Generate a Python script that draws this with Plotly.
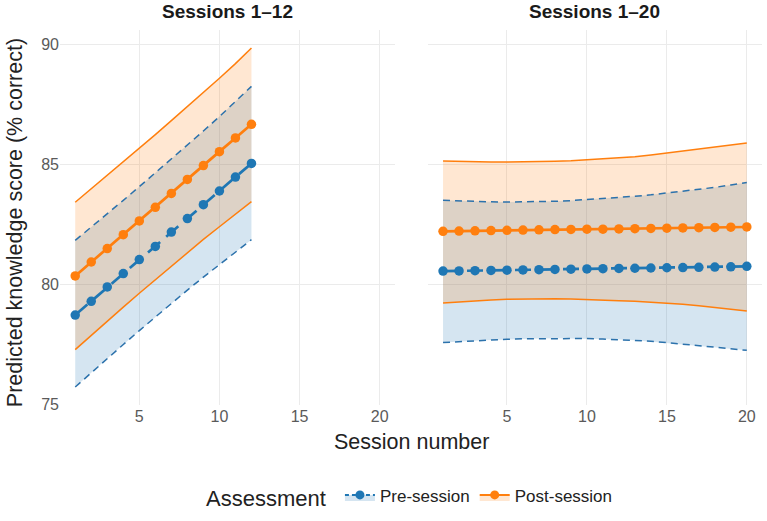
import plotly.graph_objects as go

# ---------------- data ----------------
sessions_12 = [1, 2, 3, 4, 5, 6, 7, 8, 9, 10, 11, 12]
sessions_20 = list(range(1, 21))

# Panel 1: Sessions 1-12
pre_12 = [78.72, 79.29, 79.89, 80.45, 81.03, 81.58, 82.18, 82.74, 83.32, 83.89, 84.47, 85.04]
pre_12_lo = [75.72, 76.32, 76.91, 77.49, 78.07, 78.64, 79.20, 79.76, 80.30, 80.83, 81.35, 81.86]
pre_12_hi = [81.83, 82.38, 82.94, 83.50, 84.07, 84.64, 85.22, 85.80, 86.39, 86.99, 87.61, 88.25]
post_12 = [80.35, 80.93, 81.49, 82.07, 82.64, 83.21, 83.79, 84.37, 84.95, 85.53, 86.10, 86.67]
post_12_lo = [77.28, 77.88, 78.47, 79.05, 79.63, 80.20, 80.77, 81.33, 81.87, 82.40, 82.93, 83.45]
post_12_hi = [83.42, 83.98, 84.54, 85.10, 85.67, 86.24, 86.82, 87.40, 87.99, 88.59, 89.20, 89.85]

# Panel 2: Sessions 1-20
pre_20 = [80.55, 80.56, 80.57, 80.58, 80.59, 80.60, 80.61, 80.62, 80.63, 80.64,
          80.65, 80.66, 80.67, 80.68, 80.69, 80.70, 80.71, 80.72, 80.73, 80.75]
pre_20_lo = [77.57, 77.61, 77.65, 77.68, 77.71, 77.73, 77.74, 77.75, 77.75, 77.74,
             77.72, 77.70, 77.67, 77.63, 77.57, 77.51, 77.45, 77.38, 77.31, 77.25]
pre_20_hi = [83.50, 83.47, 83.45, 83.44, 83.43, 83.43, 83.44, 83.46, 83.49, 83.53,
             83.57, 83.62, 83.67, 83.73, 83.80, 83.87, 83.95, 84.04, 84.14, 84.24]
post_20 = [82.21, 82.22, 82.23, 82.24, 82.25, 82.26, 82.27, 82.28, 82.29, 82.30,
           82.30, 82.31, 82.32, 82.33, 82.34, 82.35, 82.36, 82.37, 82.38, 82.39]
post_20_lo = [79.22, 79.27, 79.31, 79.35, 79.375, 79.39, 79.40, 79.40, 79.39, 79.375,
              79.35, 79.32, 79.29, 79.26, 79.22, 79.17, 79.11, 79.04, 78.97, 78.89]
post_20_hi = [85.14, 85.12, 85.11, 85.10, 85.10, 85.10, 85.11, 85.13, 85.15, 85.19,
              85.23, 85.27, 85.32, 85.39, 85.47, 85.54, 85.62, 85.70, 85.79, 85.89]

x_ticks = [5, 10, 15, 20]
y_ticks = [75, 80, 85, 90]
panel_titles = ["Sessions 1–12", "Sessions 1–20"]
group_names = ["Pre-session", "Post-session"]

# ---------------- style ----------------
BLUE = "#1F77B4"
ORANGE = "#FF7F0E"
BLUE_FILL = "rgba(31,119,180,0.19)"
ORANGE_FILL = "rgba(255,127,14,0.19)"
FONT = "Liberation Sans, Arial, sans-serif"

fig = go.Figure()

panels = [
    ("x", "y", sessions_12, (pre_12, pre_12_lo, pre_12_hi), (post_12, post_12_lo, post_12_hi)),
    ("x2", "y2", sessions_20, (pre_20, pre_20_lo, pre_20_hi), (post_20, post_20_lo, post_20_hi)),
]

for xa, ya, xs, pre, post in panels:
    # ribbons
    for (mid, lo, hi), fill in ((pre, BLUE_FILL), (post, ORANGE_FILL)):
        fig.add_trace(go.Scatter(
            x=xs + xs[::-1], y=hi + lo[::-1], fill="toself", fillcolor=fill,
            mode="lines", line=dict(width=0), hoverinfo="skip", showlegend=False,
            xaxis=xa, yaxis=ya))
    # ribbon edges
    for (mid, lo, hi), col, dash in ((pre, "#2C72AC", "7px,5px"), (post, ORANGE, "solid")):
        for edge in (lo, hi):
            fig.add_trace(go.Scatter(
                x=xs, y=edge, mode="lines", line=dict(color=col, width=1.5, dash=dash),
                hoverinfo="skip", showlegend=False, xaxis=xa, yaxis=ya))
    # centre lines
    fig.add_trace(go.Scatter(
        x=xs, y=pre[0], mode="lines+markers",
        line=dict(color=BLUE, width=2.7, dash="16px,8px"),
        marker=dict(color=BLUE, size=9.5), showlegend=False, xaxis=xa, yaxis=ya))
    fig.add_trace(go.Scatter(
        x=xs, y=post[0], mode="lines+markers",
        line=dict(color=ORANGE, width=2.7),
        marker=dict(color=ORANGE, size=9.5), showlegend=False, xaxis=xa, yaxis=ya))

# legend entries
fig.add_trace(go.Scatter(
    x=[None], y=[None], name=group_names[0], mode="lines+markers", fill="toself",
    fillcolor=BLUE_FILL, line=dict(color=BLUE, width=2, dash="4px,3px"),
    marker=dict(color=BLUE, size=9), xaxis="x", yaxis="y"))
fig.add_trace(go.Scatter(
    x=[None], y=[None], name=group_names[1], mode="lines+markers", fill="toself",
    fillcolor=ORANGE_FILL, line=dict(color=ORANGE, width=2),
    marker=dict(color=ORANGE, size=9), xaxis="x", yaxis="y"))

grid = dict(showgrid=True, gridcolor="#EBEBEB", gridwidth=1.4, zeroline=False,
            showline=False, ticks="", tickfont=dict(size=16, color="#5a5a5a", family=FONT))
xr = [0.05, 20.95]
yr = [74.97, 90.6]

fig.update_layout(
    width=767, height=521,
    margin=dict(l=60, r=5, t=30, b=116),
    paper_bgcolor="white", plot_bgcolor="white",
    font=dict(family=FONT, color="#222222"),
    xaxis=dict(domain=[0, 0.477], range=xr, tickvals=x_ticks, anchor="y", **grid),
    yaxis=dict(domain=[0, 1], range=yr, tickvals=y_ticks, anchor="x", **grid),
    xaxis2=dict(domain=[0.524, 1], range=xr, tickvals=x_ticks, anchor="y2", **grid),
    yaxis2=dict(domain=[0, 1], range=yr, tickvals=y_ticks, anchor="x2",
                showticklabels=False, **grid),
    showlegend=True,
    legend=dict(orientation="h", x=0.5, xanchor="center", y=-0.245, yanchor="middle",
                title=dict(text="Assessment ", font=dict(size=22, color="#222222")),
                font=dict(size=17, color="#222222"), itemwidth=30,
                bgcolor="rgba(0,0,0,0)"),
    annotations=[
        dict(text="<b>" + panel_titles[0] + "</b>", x=0.2385, y=1.048, xref="paper", yref="paper",
             xanchor="center", yanchor="middle", showarrow=False,
             font=dict(size=19, color="#1a1a1a")),
        dict(text="<b>" + panel_titles[1] + "</b>", x=0.762, y=1.048, xref="paper", yref="paper",
             xanchor="center", yanchor="middle", showarrow=False,
             font=dict(size=19, color="#1a1a1a")),
        dict(text="Session number", x=0.5, y=-0.099, xref="paper", yref="paper",
             xanchor="center", yanchor="middle", showarrow=False,
             font=dict(size=21.5, color="#222222")),
        dict(text="Predicted knowledge score (% correct)", x=-0.064, y=0.485,
             xref="paper", yref="paper", xanchor="center", yanchor="middle",
             textangle=-90, showarrow=False, font=dict(size=21.5, color="#222222")),
    ],
)

fig.write_html("out.html")
